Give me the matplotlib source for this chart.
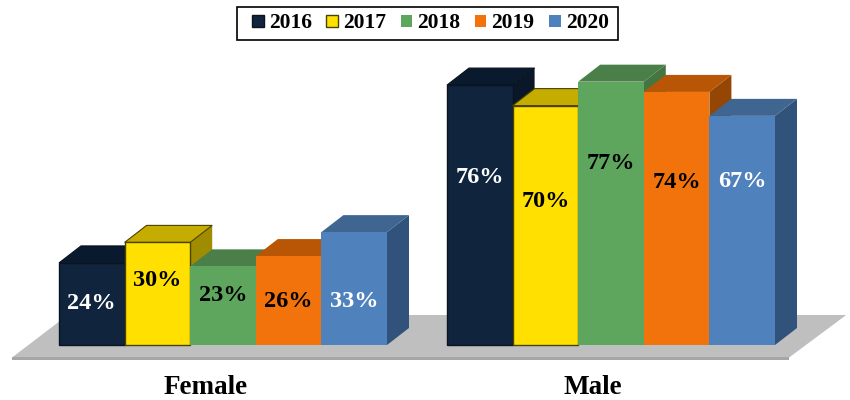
import numpy as np
import matplotlib
matplotlib.use('Agg')
import matplotlib.pyplot as plt
from matplotlib.patches import Polygon, Rectangle

groups = ['Female', 'Male']
years = ['2016', '2017', '2018', '2019', '2020']
female = [24, 30, 23, 26, 33]
male = [76, 70, 77, 74, 67]
values = [female, male]

# height of the printed labels on the bars, in percent units
female_label_y = [12.0, 19.0, 14.6, 12.6, 12.6]
male_label_y = [49.0, 42.0, 53.0, 47.4, 47.9]
label_y = [female_label_y, male_label_y]

front = ['#10243E', '#FFE000', '#5EA65E', '#F2720C', '#4F81BD']
top = ['#0A1A2E', '#C4AC00', '#4A7F4A', '#B85606', '#3F6591']
side = ['#0A1729', '#A08C00', '#457541', '#964604', '#31527A']
edge = ['#0A1320', '#4A4200', 'none', 'none', 'none']
text_col = ['white', 'black', 'black', 'black', 'white']

plt.rcParams['font.family'] = ['Liberation Serif', 'DejaVu Serif']
plt.rcParams['font.weight'] = 'bold'

# pixel scale of the picture: one bar is 65.6 px wide, one percent is 3.42 px
px_x = 65.6
px_y = 3.42
base_px = 345
left_px = 59
group_step = 388 / px_x
dx = 22 / px_x
dy = 17 / px_y

fig = plt.figure(figsize=(8.5, 4), dpi=100)
ax = fig.add_axes([0, 0, 1, 1])
ax.set_xlim(-left_px / px_x, (850 - left_px) / px_x)
ax.set_ylim(-(400 - base_px) / px_y, base_px / px_y)
ax.axis('off')

# floor
fx0, fx1 = -0.716, 11.13
fy_front, fy_back = -3.65, 8.77
ax.add_patch(Polygon([[fx0, fy_front], [fx0 + 0.85, fy_back], [fx1 + 0.87, fy_back], [fx1, fy_front]],
                     closed=True, fc='#BFBFBF', ec='none', zorder=1))
ax.add_patch(Rectangle((fx0, fy_front - 0.6), fx1 - fx0, 0.6, fc='#A6A6A6', ec='none', zorder=1))

z = 2
for g, vals in enumerate(values):
    g0 = g * group_step
    for i, v in enumerate(vals):
        x = g0 + i
        # side and top first, the front and the next bar go over them
        ax.add_patch(Polygon([[x + 1, 0], [x + 1 + dx, dy], [x + 1 + dx, v + dy], [x + 1, v]],
                             closed=True, fc=side[i], ec='none', zorder=z))
        ax.add_patch(Polygon([[x, v], [x + dx, v + dy], [x + 1 + dx, v + dy], [x + 1, v]],
                             closed=True, fc=top[i], ec=edge[i], lw=0.8, zorder=z))
        ax.bar(x + 0.5, v, width=1, color=front[i], edgecolor=edge[i], linewidth=1.0, zorder=z + 1)
        ax.text(x + 0.5, label_y[g][i], '%d%%' % v, color=text_col[i], fontsize=17.5,
                ha='center', va='center', zorder=100)
        z += 2
    ax.text(g0 + 2.23, -14.4, groups[g], fontsize=19.5, ha='center', va='baseline', color='black')

# legend box
ax.add_patch(Rectangle((237 / 850, 1 - 40 / 400), 381 / 850, 33 / 400, transform=ax.transAxes,
                       fc='white', ec='black', lw=1.2, zorder=110))
handles = [Rectangle((0, 0), 1, 1, fc=front[i], ec=edge[i], lw=1.0) for i in range(5)]
leg = ax.legend(handles, years, ncol=5, frameon=False, fontsize=15.5,
                loc='center', bbox_to_anchor=(430.5 / 850, 1 - 23.5 / 400),
                handlelength=0.53, handleheight=0.53, handletextpad=0.24,
                columnspacing=0.68, borderpad=0, borderaxespad=0)
leg.set_zorder(111)

fig.savefig('out.png', dpi=100)
